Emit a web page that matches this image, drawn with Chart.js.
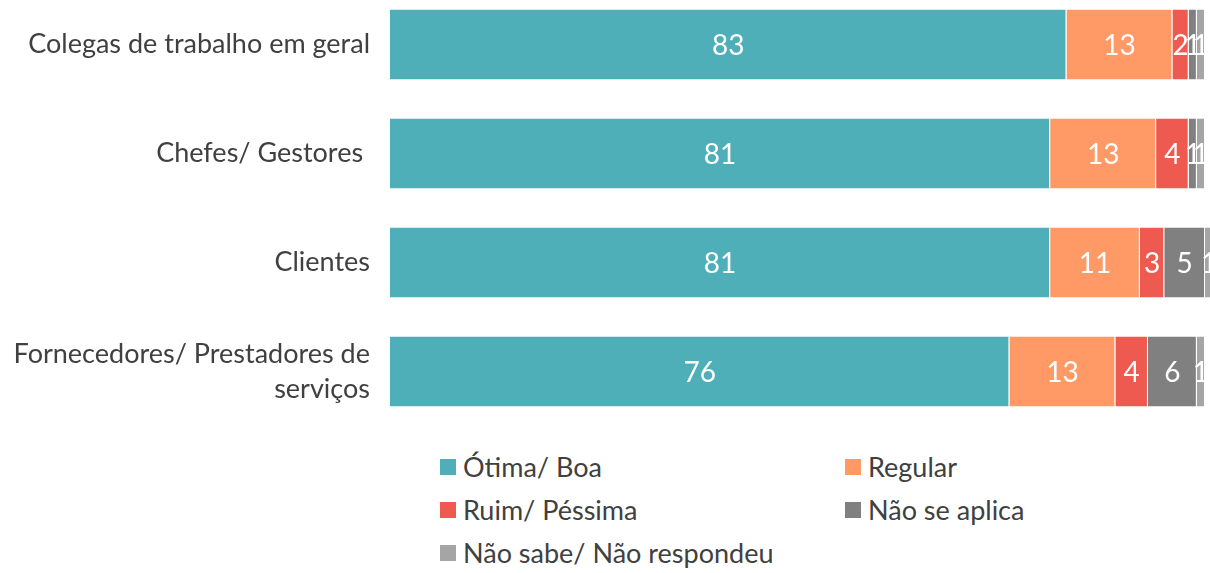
<!DOCTYPE html>
<html>
<head>
<meta charset="utf-8">
<script src="https://cdn.jsdelivr.net/npm/chart.js@4"></script>
<style>
  html, body { margin: 0; padding: 0; background: #fff; overflow: hidden; }
  body { width: 1210px; height: 573px; position: relative; font-family: Lato, sans-serif; }
  #wrap { position: absolute; left: 0; top: -10px; width: 1210px; height: 436px; }
  #legend { position: absolute; left: 440px; top: 449px; width: 700px; }
  .item { position: absolute; display: flex; align-items: center; font-size: 27px; color: #404040; white-space: nowrap; line-height: 36px; }
  .box { width: 16px; height: 16px; margin-right: 7px; }
</style>
</head>
<body>
<div id="wrap"><canvas id="chart"></canvas></div>
<div id="legend"></div>
<script>
// Categorias e séries (%)
const categories = [
  'Colegas de trabalho em geral',
  'Chefes/ Gestores ',
  'Clientes',
  ['Fornecedores/ Prestadores de', 'serviços']
];
const seriesNames = ['Ótima/ Boa', 'Regular', 'Ruim/ Péssima', 'Não se aplica', 'Não sabe/ Não respondeu'];
const otimaBoa = [83, 81, 81, 76];
const regular = [13, 13, 11, 13];
const ruimPessima = [2, 4, 3, 4];
const naoSeAplica = [1, 1, 5, 6];
const naoSabe = [1, 1, 1, 1];
const colors = ['#4FAFB9', '#FF9966', '#EE5A50', '#808080', '#A5A5A5'];

const seriesValues = [otimaBoa, regular, ruimPessima, naoSeAplica, naoSabe];

// rótulos brancos no centro de cada segmento
const valueLabels = {
  id: 'valueLabels',
  afterDatasetsDraw(chart) {
    const ctx = chart.ctx;
    ctx.save();
    ctx.fillStyle = '#fff';
    ctx.font = '28px Lato, sans-serif';
    ctx.textAlign = 'center';
    ctx.textBaseline = 'middle';
    chart.data.datasets.forEach((ds, i) => {
      chart.getDatasetMeta(i).data.forEach((bar, j) => {
        const p = bar.getCenterPoint();
        ctx.fillText(String(ds.data[j]), p.x, p.y + 1);
      });
    });
    ctx.restore();
  }
};

const ctx = document.getElementById('chart').getContext('2d');
const chart = new Chart(ctx, {
  type: 'bar',
  data: {
    labels: categories,
    datasets: seriesValues.map((vals, i) => ({
      label: seriesNames[i],
      data: vals,
      backgroundColor: colors[i],
      borderColor: 'rgba(255,255,255,0.6)',
      borderWidth: { right: 1 },
      borderSkipped: false,
      categoryPercentage: 1,
      barPercentage: 0.642,
      clip: false
    }))
  },
  options: {
    indexAxis: 'y',
    responsive: true,
    maintainAspectRatio: false,
    animation: false,
    layout: { padding: { left: 0, right: 5, top: 0, bottom: 0 } },
    plugins: {
      legend: { display: false },
      tooltip: { enabled: false }
    },
    scales: {
      x: {
        stacked: true,
        display: false,
        min: 0,
        max: 100
      },
      y: {
        stacked: true,
        grid: { display: false, drawTicks: false },
        border: { display: false },
        ticks: {
          color: '#404040',
          padding: 20,
          font: { family: 'Lato', size: 27, lineHeight: 1.3 }
        },
        afterFit(scale) {
          scale.width = 390;
          scale.paddingTop = 0;
          scale.paddingBottom = 0;
        }
      }
    }
  },
  plugins: [valueLabels]
});

// legenda em duas colunas
const legend = document.getElementById('legend');
seriesNames.forEach((name, i) => {
  const el = document.createElement('div');
  el.className = 'item';
  el.style.left = (i % 2 === 0 ? 0 : 405) + 'px';
  el.style.top = (Math.floor(i / 2) * 43) + 'px';
  el.innerHTML = '<span class="box" style="background:' + colors[i] + '"></span>' + name;
  legend.appendChild(el);
});
</script>
</body>
</html>
